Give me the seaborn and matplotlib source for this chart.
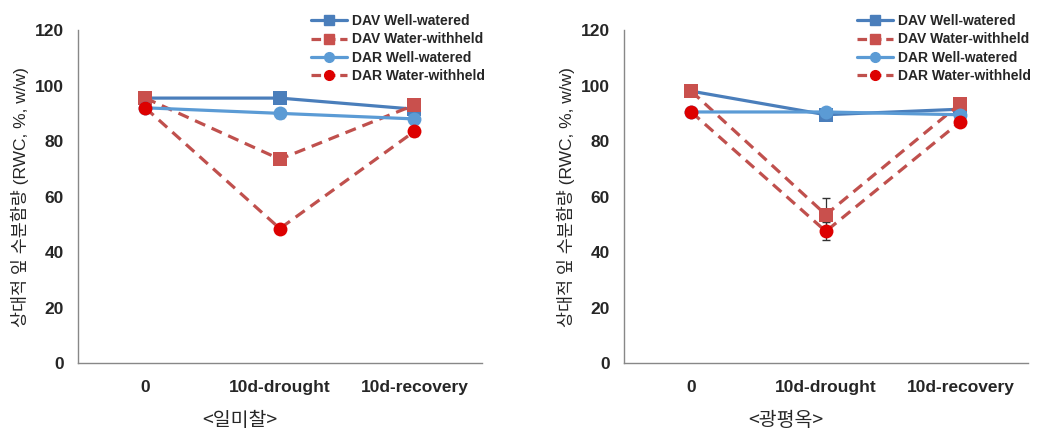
import numpy as np
import pandas as pd
import matplotlib
matplotlib.use('Agg')
import matplotlib.pyplot as plt
import seaborn as sns

# categories and series
stages = ['0', '10d-drought', '10d-recovery']
series = ['DAV Well-watered', 'DAV Water-withheld', 'DAR Well-watered', 'DAR Water-withheld']
cultivars = ['<일미찰>', '<광평옥>']

# 일미찰
ilmichal_dav_ww = [95.5, 95.5, 91.5]
ilmichal_dav_wh = [95.5, 73.5, 93.0]
ilmichal_dar_ww = [92.0, 90.0, 88.0]
ilmichal_dar_wh = [92.0, 48.5, 83.5]
ilmichal_err = {
    'DAV Well-watered': [0.8, 1.5, 0.8],
    'DAV Water-withheld': [1.0, 1.0, 1.5],
    'DAR Well-watered': [0.5, 1.5, 1.5],
    'DAR Water-withheld': [1.0, 1.0, 1.5],
}

# 광평옥
gwangpyeong_dav_ww = [98.0, 89.5, 91.5]
gwangpyeong_dav_wh = [98.0, 53.5, 93.5]
gwangpyeong_dar_ww = [90.5, 90.5, 89.5]
gwangpyeong_dar_wh = [90.5, 47.5, 87.0]
gwangpyeong_err = {
    'DAV Well-watered': [0.5, 1.0, 0.8],
    'DAV Water-withheld': [0.5, 6.0, 1.0],
    'DAR Well-watered': [0.5, 1.0, 0.8],
    'DAR Water-withheld': [0.5, 3.3, 1.0],
}

colors = {
    'DAV Well-watered': '#4a7ebb',
    'DAV Water-withheld': '#c0504d',
    'DAR Well-watered': '#5b9bd5',
    'DAR Water-withheld': '#c0504d',
}
marker_colors = {
    'DAV Well-watered': '#4a7ebb',
    'DAV Water-withheld': '#c9504d',
    'DAR Well-watered': '#5b9bd5',
    'DAR Water-withheld': '#dd0000',
}
markers = {'DAV Well-watered': 's', 'DAV Water-withheld': 's',
           'DAR Well-watered': 'o', 'DAR Water-withheld': 'o'}
dashes = {'DAV Well-watered': '', 'DAV Water-withheld': (3.5, 2.2),
          'DAR Well-watered': '', 'DAR Water-withheld': (3.5, 2.2)}


def build(vals):
    rows = []
    for s, v in zip(series, vals):
        for i, st in enumerate(stages):
            rows.append({'stage': st, 'pos': i, 'series': s, 'rwc': v[i]})
    return pd.DataFrame(rows)


panels = [
    (build([ilmichal_dav_ww, ilmichal_dav_wh, ilmichal_dar_ww, ilmichal_dar_wh]), ilmichal_err),
    (build([gwangpyeong_dav_ww, gwangpyeong_dav_wh, gwangpyeong_dar_ww, gwangpyeong_dar_wh]), gwangpyeong_err),
]

sns.set_style('white')
plt.rcParams['font.family'] = ['Liberation Sans', 'Noto Sans CJK KR']

fig = plt.figure(figsize=(10.54, 4.36), dpi=100)
axes_pos = [[0.074, 0.167, 0.383, 0.764], [0.592, 0.167, 0.383, 0.764]]

for (df, err), pos, name in zip(panels, axes_pos, cultivars):
    ax = fig.add_axes(pos)
    for s in series:
        d = df[df['series'] == s]
        ax.errorbar(d['pos'], d['rwc'], yerr=err[s], fmt='none',
                    ecolor='#333333', elinewidth=0.9, capsize=3, zorder=2)
    sns.lineplot(data=df, x='pos', y='rwc', hue='series', style='series',
                 palette=colors, markers=markers, dashes=dashes,
                 linewidth=2.3, markersize=10, markeredgewidth=0,
                 ax=ax, legend=False, zorder=3)
    # recolour the markers
    for line, s in zip(ax.get_lines()[-len(series):], series):
        line.set_markerfacecolor(marker_colors[s])
        line.set_markeredgecolor(marker_colors[s])

    ax.set_xlim(-0.5, 2.5)
    ax.set_ylim(0, 120)
    ax.set_yticks(range(0, 121, 20))
    ax.set_xticks([-0.5, 0.5, 1.5, 2.5])
    ax.set_xticklabels([])
    ax.set_xticks(range(len(stages)), minor=True)
    ax.set_xticklabels(stages, minor=True, fontsize=12.5, fontweight='bold')
    ax.tick_params(axis='x', which='minor', length=0, pad=12)
    ax.tick_params(axis='x', which='major', direction='out', length=5, color='#888888')
    ax.tick_params(axis='y', direction='out', length=5, color='#888888', labelsize=12.5, pad=5)
    for t in ax.get_yticklabels():
        t.set_fontweight('bold')
    for sp in ['top', 'right']:
        ax.spines[sp].set_visible(False)
    for sp in ['left', 'bottom']:
        ax.spines[sp].set_color('#888888')
        ax.spines[sp].set_linewidth(1.0)
    ax.set_xlabel('')
    ax.set_ylabel('상대적 잎 수분함량 (RWC, %, w/w)', fontsize=12.5, labelpad=4,
                  family=['Liberation Sans', 'Noto Sans CJK KR'])

    handles = []
    for s in series:
        h, = ax.plot([], [], color=colors[s], linewidth=2.3, marker=markers[s],
                     markersize=7, markerfacecolor=marker_colors[s],
                     markeredgecolor=marker_colors[s],
                     linestyle='-' if dashes[s] == '' else (0, (3.0, 1.5)))
        handles.append(h)
    ax.legend(handles, series, loc='upper right', bbox_to_anchor=(1.04, 1.085),
              frameon=False, handlelength=2.6, handletextpad=0.4,
              labelspacing=0.3, prop={'size': 10, 'weight': 'bold'})

    x_mid = pos[0] + pos[2] * 0.40
    fig.text(x_mid, 0.035, name, ha='center', va='center', fontsize=14,
             family=['Noto Sans CJK KR'], fontweight='light')

fig.savefig('out.png', dpi=100)
